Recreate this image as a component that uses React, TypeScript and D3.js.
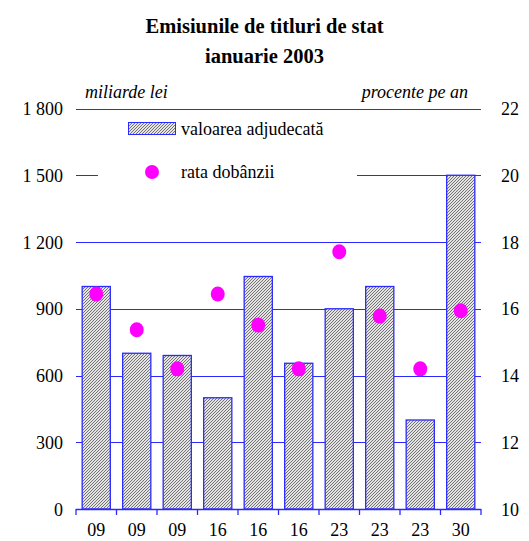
import React from "react";
import * as d3 from "d3";

// data
const dates = ["09", "09", "09", "16", "16", "16", "23", "23", "23", "30"];
const amounts = [1000, 700, 690, 500, 1045, 655, 900, 1000, 400, 1500];
const rates = [16.44, 15.37, 14.2, 16.44, 15.51, 14.2, 17.71, 15.78, 14.2, 15.94];
const leftTicks = [0, 300, 600, 900, 1200, 1500, 1800];
const rightTicks = [10, 12, 14, 16, 18, 20, 22];

const W = 529;
const H = 541;
const left = 76;
const right = 481;
const bottom = 509;
const top = 108.5;
const blue = "#2a2aff";
const font = "Liberation Serif";

const App = () => {
  const idx = dates.map((_, i) => i);
  const x = d3.scaleBand<number>().domain(idx).range([left, right]).paddingInner(0.28).paddingOuter(0.14);
  const y = d3.scaleLinear().domain([0, 1800]).range([bottom, top]);
  const y2 = d3.scaleLinear().domain([10, 22]).range([bottom, top]);
  const gap = (x.step() - x.bandwidth()) / 2;
  const bounds = idx.map((i) => (x(i) as number) - gap).concat([right]);
  const fmt = (v: number) => d3.format(",")(v).replace(",", " ");
  const txt = { fontFamily: font, fontSize: 18 };

  return (
    <svg width={W} height={H} style={{ position: "absolute", left: 0, top: 0, fontFamily: font }}>
      <defs>
        <pattern id="hatch" patternUnits="userSpaceOnUse" width="3" height="3">
          <rect width="3" height="3" fill="#e4e4e4" />
          <path d="M-1,1 l2,-2 M0,3 l3,-3 M2,4 l2,-2" stroke="#555" strokeWidth="0.8" />
        </pattern>
      </defs>

      <text x={W / 2} y={33} textAnchor="middle" style={{ fontFamily: font, fontSize: 20.5, fontWeight: "bold" }}>
        Emisiunile de titluri de stat
      </text>
      <text x={W / 2} y={63} textAnchor="middle" style={{ fontFamily: font, fontSize: 20.5, fontWeight: "bold" }}>
        ianuarie 2003
      </text>

      <text x={85} y={98} style={{ ...txt, fontStyle: "italic" }}>miliarde lei</text>
      <text x={468} y={98} textAnchor="end" style={{ ...txt, fontStyle: "italic" }}>procente pe an</text>

      {/* gridlines */}
      {leftTicks.slice(1).map((t) => (
        <line key={t} x1={left} x2={right} y1={Math.round(y(t)) + 0.5} y2={Math.round(y(t)) + 0.5} stroke={blue} strokeWidth={1} />
      ))}

      {/* legend box hides the grid behind it */}
      <rect x={98} y={112} width={259} height={80} fill="#fff" />
      <rect x={128.5} y={122.5} width={47} height={12} fill="url(#hatch)" stroke={blue} strokeWidth={1} />
      <text x={181} y={135} style={txt}>valoarea adjudecată</text>
      <circle cx={152} cy={172} r={7} fill="#ff00ff" />
      <text x={181} y={178} style={txt}>rata dobânzii</text>

      {/* bars */}
      {amounts.map((v, i) => (
        <rect
          key={i}
          x={(x(i) as number) + 0.5}
          y={y(v)}
          width={x.bandwidth() - 1}
          height={bottom - y(v)}
          fill="url(#hatch)"
          stroke={blue}
          strokeWidth={1.3}
        />
      ))}

      {/* dots */}
      {rates.map((r, i) => (
        <ellipse key={i} cx={(x(i) as number) + x.bandwidth() / 2} cy={y2(r)} rx={7} ry={7.5} fill="#ff00ff" />
      ))}

      {/* x axis */}
      <line x1={left} x2={right} y1={bottom + 0.5} y2={bottom + 0.5} stroke={blue} strokeWidth={1.5} />
      {bounds.map((b, i) => (
        <line key={i} x1={b} x2={b} y1={bottom} y2={bottom + 6} stroke={blue} strokeWidth={1.3} />
      ))}
      {dates.map((d, i) => (
        <text key={i} x={(x(i) as number) + x.bandwidth() / 2} y={536} textAnchor="middle" style={txt}>
          {d}
        </text>
      ))}

      {/* y axes labels */}
      {leftTicks.map((t) => (
        <text key={t} x={63} y={y(t) + 6.5} textAnchor="end" style={txt}>
          {fmt(t)}
        </text>
      ))}
      {rightTicks.map((t) => (
        <text key={t} x={501} y={y2(t) + 6.5} style={txt}>
          {t}
        </text>
      ))}
    </svg>
  );
};

export default App;
